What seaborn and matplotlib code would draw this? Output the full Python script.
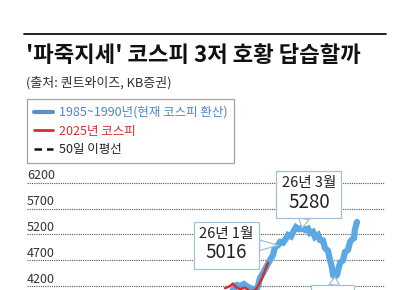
import matplotlib
matplotlib.use("Agg")
import matplotlib.pyplot as plt
import seaborn as sns
import pandas as pd
from matplotlib.lines import Line2D
from matplotlib.offsetbox import TextArea, VPacker, AnnotationBbox
import matplotlib.transforms as mtransforms

# ---------------- data ----------------
title = "'파죽지세' 코스피 3저 호황 답습할까"
subtitle = "(출처: 퀀트와이즈, KB증권)"
legend_labels = ["1985~1990년(현재 코스피 환산)", "2025년 코스피", "50일 이평선"]

y_ticks = [4200, 4700, 5200, 5700, 6200]

# 1985~1990 path rescaled to today's KOSPI (trading-day index, value)
blue_days = [205, 208, 210, 213, 217, 221, 225, 229, 231, 233, 236, 239, 243,
             246, 248, 251, 253, 256, 259, 261, 264, 267, 269, 272, 275, 278,
             281, 283, 286, 288, 291, 293, 296, 298, 301, 303, 305, 306, 308,
             310, 313, 316, 318, 321, 323, 325, 327, 328, 330]
blue_vals = [4100, 4180, 4221, 4200, 4240, 4180, 4150, 4110, 4200, 4357, 4450,
             4560, 4705, 4800, 4956, 4990, 5053, 5040, 5120, 5188, 5160, 5280,
             5340, 5300, 5324, 5285, 5310, 5227, 5250, 5150, 5190, 5092, 5080,
             4937, 4880, 4705, 4560, 4415, 4376, 4420, 4647, 4700, 4860, 4900,
             5053, 5100, 5130, 5300, 5440]

# 2025 KOSPI
red_days = [198, 203, 206, 209, 213, 218, 223, 228, 231, 235, 238, 241]
red_vals = [4160, 4200, 4250, 4180, 4140, 4170, 4100, 4120, 4200, 4350, 4500, 4650]

callouts = [("26년 1월", "5016"), ("26년 3월", "5280")]
callout_days = [251, 275, 308]

# ---------------- styling ----------------
sns.set_theme(style="white")
plt.rcParams["font.family"] = ["Noto Sans CJK KR", "DejaVu Sans"]

BLUE_LINE = "#5aa9e4"
BLUE_LEG = "#5b8fc7"
BLUE_TXT = "#4f87c6"
RED = "#d32f2f"
BOX_EDGE = "#a3c0d8"

W_PX, H_PX = 410, 290
fig = plt.figure(figsize=(W_PX / 100, H_PX / 100), dpi=100)

# axes extends below the picture (chart is cropped at the bottom)
y_top_v, y_bot_v = 6400, 3200
px_per_unit = 0.0517
top_px = 182.7 - (y_top_v - 6200) * px_per_unit
bot_px = 182.7 + (6200 - y_bot_v) * px_per_unit
ax = fig.add_axes([27 / W_PX, (H_PX - bot_px) / H_PX,
                   358 / W_PX, (bot_px - top_px) / H_PX])

df_blue = pd.DataFrame({"day": blue_days, "value": blue_vals})
df_red = pd.DataFrame({"day": red_days, "value": red_vals})

sns.lineplot(data=df_blue, x="day", y="value", ax=ax, color=BLUE_LINE,
             lw=4.5, solid_joinstyle="miter", zorder=3)
sns.lineplot(data=df_red, x="day", y="value", ax=ax, color=RED,
             lw=1.8, zorder=4)

ax.set_xlim(0, 358)
ax.set_ylim(y_bot_v, y_top_v)
ax.set_yticks(y_ticks)
ax.set_xticks([])
ax.set_yticklabels([])
ax.tick_params(left=False, bottom=False)
ax.set_xlabel("")
ax.set_ylabel("")
for s in ax.spines.values():
    s.set_visible(False)
ax.yaxis.grid(True, linestyle=(0, (1, 1)), color="#555555", lw=0.8)
ax.set_axisbelow(True)

trans = mtransforms.blended_transform_factory(ax.transAxes, ax.transData)
for v in y_ticks:
    ax.text(0.0, v + 135, str(v), transform=trans, ha="left", va="center",
            fontsize=9, color="#333333")

# callouts
offsets = [(-37, 0), (5, 24), (-2, -23)]
for i, d in enumerate(callout_days):
    val = blue_vals[blue_days.index(d)]
    if i < len(callouts):
        l1, l2 = callouts[i]
    else:
        l1, l2 = "          ", "      "
    pack = VPacker(children=[
        TextArea(l1, textprops=dict(size=10.5, color="#222222")),
        TextArea(l2, textprops=dict(size=13.5, color="#222222")),
    ], align="center", pad=0, sep=1)
    ab = AnnotationBbox(pack, (d, val), xybox=offsets[i], xycoords="data",
                        boxcoords="offset points", frameon=True, pad=0.35,
                        bboxprops=dict(edgecolor=BOX_EDGE, facecolor="white",
                                       lw=0.9, boxstyle="square,pad=0.35"),
                        arrowprops=dict(arrowstyle="wedge,tail_width=0.5",
                                        fc="white", ec=BOX_EDGE, lw=0.9,
                                        shrinkA=0, shrinkB=0),
                        zorder=6, annotation_clip=False)
    ax.add_artist(ab)

# header
fig.add_artist(Line2D([24 / W_PX, 386 / W_PX], [1 - 34 / H_PX, 1 - 34 / H_PX],
                      color="#111111", lw=1.3))
fig.text(26 / W_PX, 1 - 56 / H_PX, title, fontsize=16, fontweight="bold",
         ha="left", va="center", color="#111111")
fig.text(26 / W_PX, 1 - 83 / H_PX, subtitle, fontsize=9.3,
         ha="left", va="center", color="#333333")

# legend
handles = [Line2D([], [], color=BLUE_LEG, lw=3.0),
           Line2D([], [], color=RED, lw=2.0),
           Line2D([], [], color="#111111", lw=1.8, linestyle=(0, (3, 2)))]
leg = fig.legend(handles, legend_labels, loc="upper left",
                 bbox_to_anchor=(27 / W_PX, 1 - 99 / H_PX),
                 bbox_transform=fig.transFigure, borderaxespad=0,
                 frameon=True, fancybox=False, fontsize=9,
                 handlelength=1.5, handletextpad=0.5, labelspacing=0.45,
                 borderpad=0.55)
leg.get_frame().set_edgecolor("#8a8a8a")
leg.get_frame().set_linewidth(0.9)
for t, c in zip(leg.get_texts(), [BLUE_TXT, RED, "#222222"]):
    t.set_color(c)

fig.savefig("out.png", dpi=100)
